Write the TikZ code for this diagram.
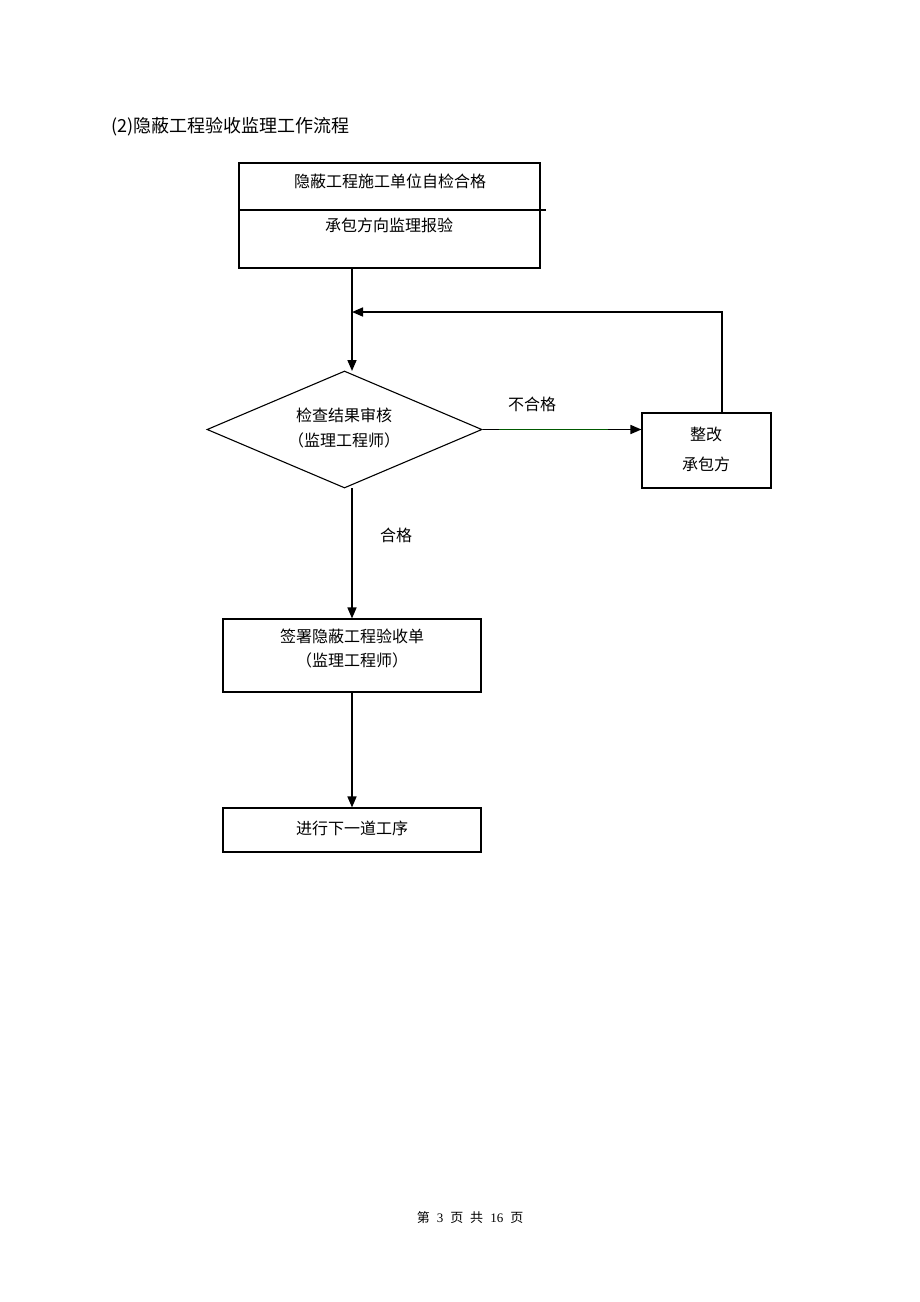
\documentclass[tikz,border=0pt]{standalone}
\usepackage{fontspec}
\setmainfont{Liberation Serif}
\newfontfamily\cjk{Noto Sans CJK SC}
\usetikzlibrary{shapes.geometric,arrows.meta,calc}
\tikzset{
  box/.style={draw=black,line width=1.1pt,rectangle,inner sep=0pt},
  lbl/.style={inner sep=0pt,font=\cjk\fontsize{16}{18}\selectfont},
  conn/.style={draw=black,line width=1.6pt,-{Triangle[length=11pt,width=9pt]}},
}
\begin{document}
\begin{tikzpicture}[x=1pt,y=-1pt]
\useasboundingbox[fill=white] (0,0) rectangle (920,1302);
% title
\node[anchor=west,inner sep=0pt,font=\cjk\fontsize{18}{20}\selectfont] (title) at (111,127) {(2)隐蔽工程验收监理工作流程};
% top box
\node[box,minimum width=301pt,minimum height=105pt] (top) at (389.5,215.5) {};
\coordinate (divL) at (239,210);
\coordinate (divR) at (546,210);
\draw[line width=1.1pt] (divL) -- (divR);
\node[lbl] (t1) at (390,181) {隐蔽工程施工单位自检合格};
\node[lbl] (t2) at (389,225) {承包方向监理报验};
% diamond
\node[box,diamond,minimum width=275pt,minimum height=117pt] (d) at (344.5,429.5) {};
\node[lbl] (d1) at (344,415) {检查结果审核};
\node[lbl] (d2) at (344,440) {（监理工程师）};
% rework box
\node[box,minimum width=129pt,minimum height=75pt] (rw) at (706.5,450.5) {};
\node[lbl] (r1) at (706,434) {整改};
\node[lbl] (r2) at (706,464) {承包方};
% sign box
\node[box,minimum width=258pt,minimum height=73pt] (sg) at (352,655.5) {};
\node[lbl] (s1) at (352,636) {签署隐蔽工程验收单};
\node[lbl] (s2) at (352,660) {（监理工程师）};
% final box
\node[box,minimum width=258pt,minimum height=44pt] (fin) at (352,830) {};
\node[lbl] (f1) at (352,828) {进行下一道工序};
% labels
\node[lbl] (ng) at (532,404) {不合格};
\node[lbl] (ok) at (396,535) {合格};
% connectors
\coordinate (topout) at (352,268);
\coordinate (dtop) at (352,371);
\coordinate (join) at (352,312);
\coordinate (rwup) at (722,413);
\draw[conn] (topout) -- (dtop);
\draw[conn] (rwup) |- (join);
\draw[conn] (d.east) -- (d.east -| rw.west);
\draw[line width=1.1pt,green!35!black] ($(d.east)+(16,0)$) -- ($(d.east -| rw.west)+(-33,0)$);
\coordinate (dbot) at (352,488);
\draw[conn] (dbot) -- (sg.north);
\draw[conn] (sg.south) -- (fin.north);
% footer
\node[inner sep=0pt,font=\fontsize{13}{15}\selectfont] (foot) at (470,1218) {{\cjk 第}\hspace{7pt}3\hspace{7pt}{\cjk 页}\hspace{7pt}{\cjk 共}\hspace{7pt}16\hspace{7pt}{\cjk 页}};
\end{tikzpicture}
\end{document}
